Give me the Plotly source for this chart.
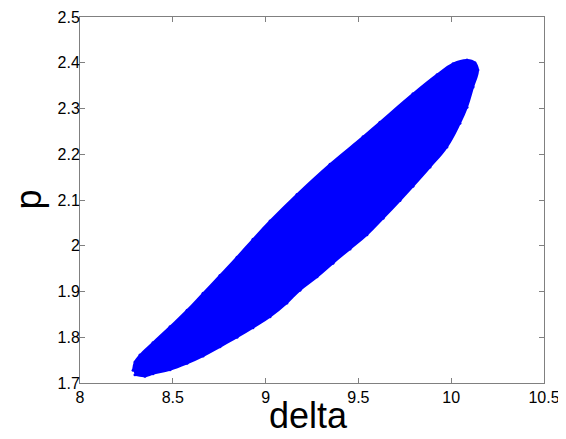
import plotly.graph_objects as go

# outline of the sampled (delta, p) cloud, traced clockwise from the lower-left tip
delta_edge = [8.286, 8.296, 8.323, 8.393, 8.485, 8.577, 8.663, 8.754, 8.846, 8.932,
              9.024, 9.169, 9.347, 9.525, 9.616, 9.794, 9.924, 10.010, 10.085, 10.128,
              10.144, 10.118, 10.085, 10.047, 9.977, 9.886, 9.794, 9.724, 9.633, 9.546,
              9.455, 9.363, 9.277, 9.185, 9.115, 9.024, 8.932, 8.846, 8.754, 8.663,
              8.577, 8.485, 8.393, 8.350, 8.296]
p_edge = [1.728, 1.746, 1.761, 1.788, 1.823, 1.859, 1.896, 1.935, 1.975, 2.014,
          2.054, 2.112, 2.178, 2.238, 2.270, 2.332, 2.374, 2.398, 2.406, 2.400,
          2.384, 2.347, 2.303, 2.268, 2.216, 2.172, 2.130, 2.099, 2.060, 2.024,
          1.993, 1.962, 1.932, 1.903, 1.875, 1.845, 1.821, 1.800, 1.779, 1.759,
          1.743, 1.729, 1.720, 1.715, 1.718]

x_ticks = [8, 8.5, 9, 9.5, 10, 10.5]
y_ticks = [1.7, 1.8, 1.9, 2, 2.1, 2.2, 2.3, 2.4, 2.5]

font_name = 'Liberation Sans, Arial'

fig = go.Figure()
fig.add_trace(go.Scatter(x=delta_edge, y=p_edge, mode='lines+markers', fill='toself',
                         fillcolor='#0000ff',
                         line=dict(color='#0000ff', width=2, shape='spline', smoothing=1.2),
                         marker=dict(color='#0000ff', size=3), showlegend=False,
                         hoverinfo='skip'))

axis_style = dict(showline=True, linecolor='#808080', linewidth=1, mirror='ticks',
                  ticks='inside', ticklen=5, tickcolor='#808080', showgrid=False,
                  zeroline=False, automargin=False,
                  tickfont=dict(family=font_name, size=16, color='black'))

fig.update_xaxes(range=[8, 10.5], tickvals=x_ticks, **axis_style)
fig.update_yaxes(range=[1.7, 2.5], tickvals=y_ticks, ticklabelstandoff=-4, **axis_style)

# axis titles
fig.add_annotation(text='delta', xref='paper', yref='paper', x=0.4935, y=-0.088,
                   xanchor='center', yanchor='middle', showarrow=False,
                   font=dict(family=font_name, size=36, color='black'))
fig.add_annotation(text='p', xref='paper', yref='paper', x=-0.113, y=0.5,
                   xanchor='center', yanchor='middle', textangle=-90, showarrow=False,
                   font=dict(family=font_name, size=36, color='black'))

# page body adds an 8px margin, so the figure is 8px smaller than the window
fig.update_layout(width=558, height=431, margin=dict(l=72, r=22, t=9, b=56),
                  plot_bgcolor='white', paper_bgcolor='white')

fig.write_html("out.html")
